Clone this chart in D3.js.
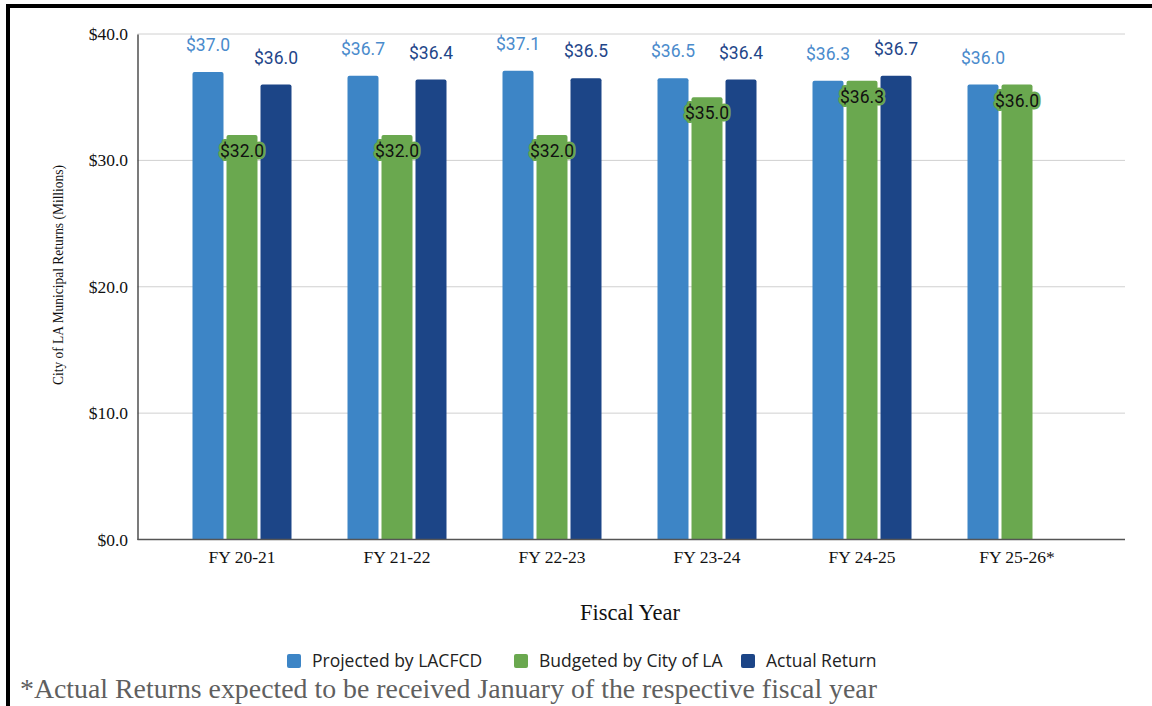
<!DOCTYPE html>
<html>
<head>
<meta charset="utf-8">
<script src="https://cdn.jsdelivr.net/npm/d3@7"></script>
<style>
  html, body { margin: 0; padding: 0; background: #fff; }
  svg { display: block; }
</style>
</head>
<body>
<svg id="chart" width="1152" height="706"></svg>
<script>
const categories = ["FY 20-21", "FY 21-22", "FY 22-23", "FY 23-24", "FY 24-25", "FY 25-26*"];
const seriesNames = ["Projected by LACFCD", "Budgeted by City of LA", "Actual Return"];
const projected = [37.0, 36.7, 37.1, 36.5, 36.3, 36.0];
const budgeted  = [32.0, 32.0, 32.0, 35.0, 36.3, 36.0];
const actual    = [36.0, 36.4, 36.5, 36.4, 36.7, null];
const yTicks = [0, 10, 20, 30, 40];
const colors = ["#3d85c6", "#6aa84f", "#1c4587"];
const labelColors = ["#4a8bcc", "#111111", "#1f4689"];

const seriesValues = [projected, budgeted, actual];
const svg = d3.select("#chart");

// frame
svg.append("rect").attr("x", 6).attr("y", 4).attr("width", 1146).attr("height", 4).attr("fill", "#000");
svg.append("rect").attr("x", 6).attr("y", 4).attr("width", 4).attr("height", 702).attr("fill", "#000");

const plotLeft = 137.5, plotRight = 1125, plotTop = 34, plotBottom = 539.5;
const serif = "'Liberation Serif', 'Times New Roman', serif";

const y = d3.scaleLinear().domain([0, 40]).range([plotBottom, plotTop]);
const x0 = d3.scaleBand().domain(categories).range([164.5, 1094.5]).padding(0);
const x1 = d3.scaleBand().domain(seriesNames).range([0, 99]).paddingInner(3 / 34).paddingOuter(0);
const groupOffset = (x0.bandwidth() - 99) / 2;

// gridlines
svg.append("g").selectAll("line").data(yTicks.filter(d => d > 0)).join("line")
  .attr("x1", plotLeft).attr("x2", plotRight)
  .attr("y1", d => y(d)).attr("y2", d => y(d))
  .attr("stroke", "#d0d0d0").attr("stroke-width", 1);

// y axis
const yAxis = d3.axisLeft(y).tickValues(yTicks).tickSize(0).tickPadding(9.5)
  .tickFormat(d => "$" + d3.format(".1f")(d));
const gy = svg.append("g").attr("transform", `translate(${plotLeft},0)`).call(yAxis);
gy.select(".domain").attr("stroke", "#333").attr("stroke-width", 1.3);
gy.selectAll("text").attr("font-family", serif).attr("font-size", 17.5).attr("fill", "#111");

// bars
const flat = [];
categories.forEach((c, i) => {
  seriesNames.forEach((s, j) => {
    const v = seriesValues[j][i];
    if (v !== null && v !== undefined) flat.push({ c, s, j, v });
  });
});

svg.append("g").selectAll("path").data(flat).join("path")
  .attr("fill", d => colors[d.j])
  .attr("d", d => {
    const bx = x0(d.c) + groupOffset + x1(d.s);
    const bw = x1.bandwidth();
    const top = y(d.v), bot = y(0);
    const r = 2;
    return `M${bx},${bot}V${top + r}Q${bx},${top} ${bx + r},${top}H${bx + bw - r}Q${bx + bw},${top} ${bx + bw},${top + r}V${bot}Z`;
  });

// x axis baseline
svg.append("line").attr("x1", plotLeft).attr("x2", plotRight)
  .attr("y1", plotBottom).attr("y2", plotBottom)
  .attr("stroke", "#555").attr("stroke-width", 1.3);

const xAxis = d3.axisBottom(x0).tickSize(0).tickPadding(11);
const gx = svg.append("g").attr("transform", `translate(0,${plotBottom})`).call(xAxis);
gx.select(".domain").remove();
gx.selectAll("text").attr("font-family", serif).attr("font-size", 17.5).attr("fill", "#111");

// value labels
const lbl = svg.append("g").attr("font-family", "Roboto, sans-serif").attr("font-size", 17.5).attr("text-anchor", "middle");
lbl.selectAll("text").data(flat).join("text")
  .attr("x", d => x0(d.c) + groupOffset + x1(d.s) + x1.bandwidth() / 2)
  .attr("y", d => d.j === 1 ? y(d.v) + 16 : y(d.v) - 27)
  .attr("dy", "0.35em")
  .attr("fill", d => labelColors[d.j])
  .attr("stroke", d => d.j === 1 ? "#6aa84f" : "none")
  .attr("stroke-width", d => d.j === 1 ? 5 : 0)
  .attr("stroke-linejoin", "round")
  .attr("paint-order", "stroke")
  .text(d => "$" + d3.format(".1f")(d.v));

// axis titles
svg.append("text")
  .attr("transform", `translate(58,275) rotate(-90)`)
  .attr("text-anchor", "middle").attr("dy", "0.35em")
  .attr("font-family", serif)
  .attr("font-size", 14.5).attr("fill", "#111")
  .attr("textLength", 220).attr("lengthAdjust", "spacingAndGlyphs")
  .text("City of LA Municipal Returns (Millions)");

svg.append("text")
  .attr("x", 630).attr("y", 612).attr("dy", "0.35em")
  .attr("text-anchor", "middle")
  .attr("font-family", serif)
  .attr("font-size", 22.5).attr("fill", "#111")
  .text("Fiscal Year");

// legend
const legendX = [287, 514, 741];
const leg = svg.append("g").selectAll("g").data(seriesNames).join("g")
  .attr("transform", (d, i) => `translate(${legendX[i]},661)`);
leg.append("rect").attr("x", 0).attr("y", -7).attr("width", 14).attr("height", 14).attr("rx", 2)
  .attr("fill", (d, i) => colors[i]);
leg.append("text").attr("x", 25).attr("dy", "0.35em")
  .attr("font-family", "'Open Sans', sans-serif").attr("font-size", 17.5).attr("fill", "#222")
  .text(d => d);

// footnote
svg.append("text")
  .attr("x", 20).attr("y", 698)
  .attr("font-family", serif).attr("font-size", 26.5).attr("fill", "#5f5f5f")
  .attr("textLength", 857).attr("lengthAdjust", "spacingAndGlyphs")
  .text("*Actual Returns expected to be received January of the respective fiscal year");
</script>
</body>
</html>
